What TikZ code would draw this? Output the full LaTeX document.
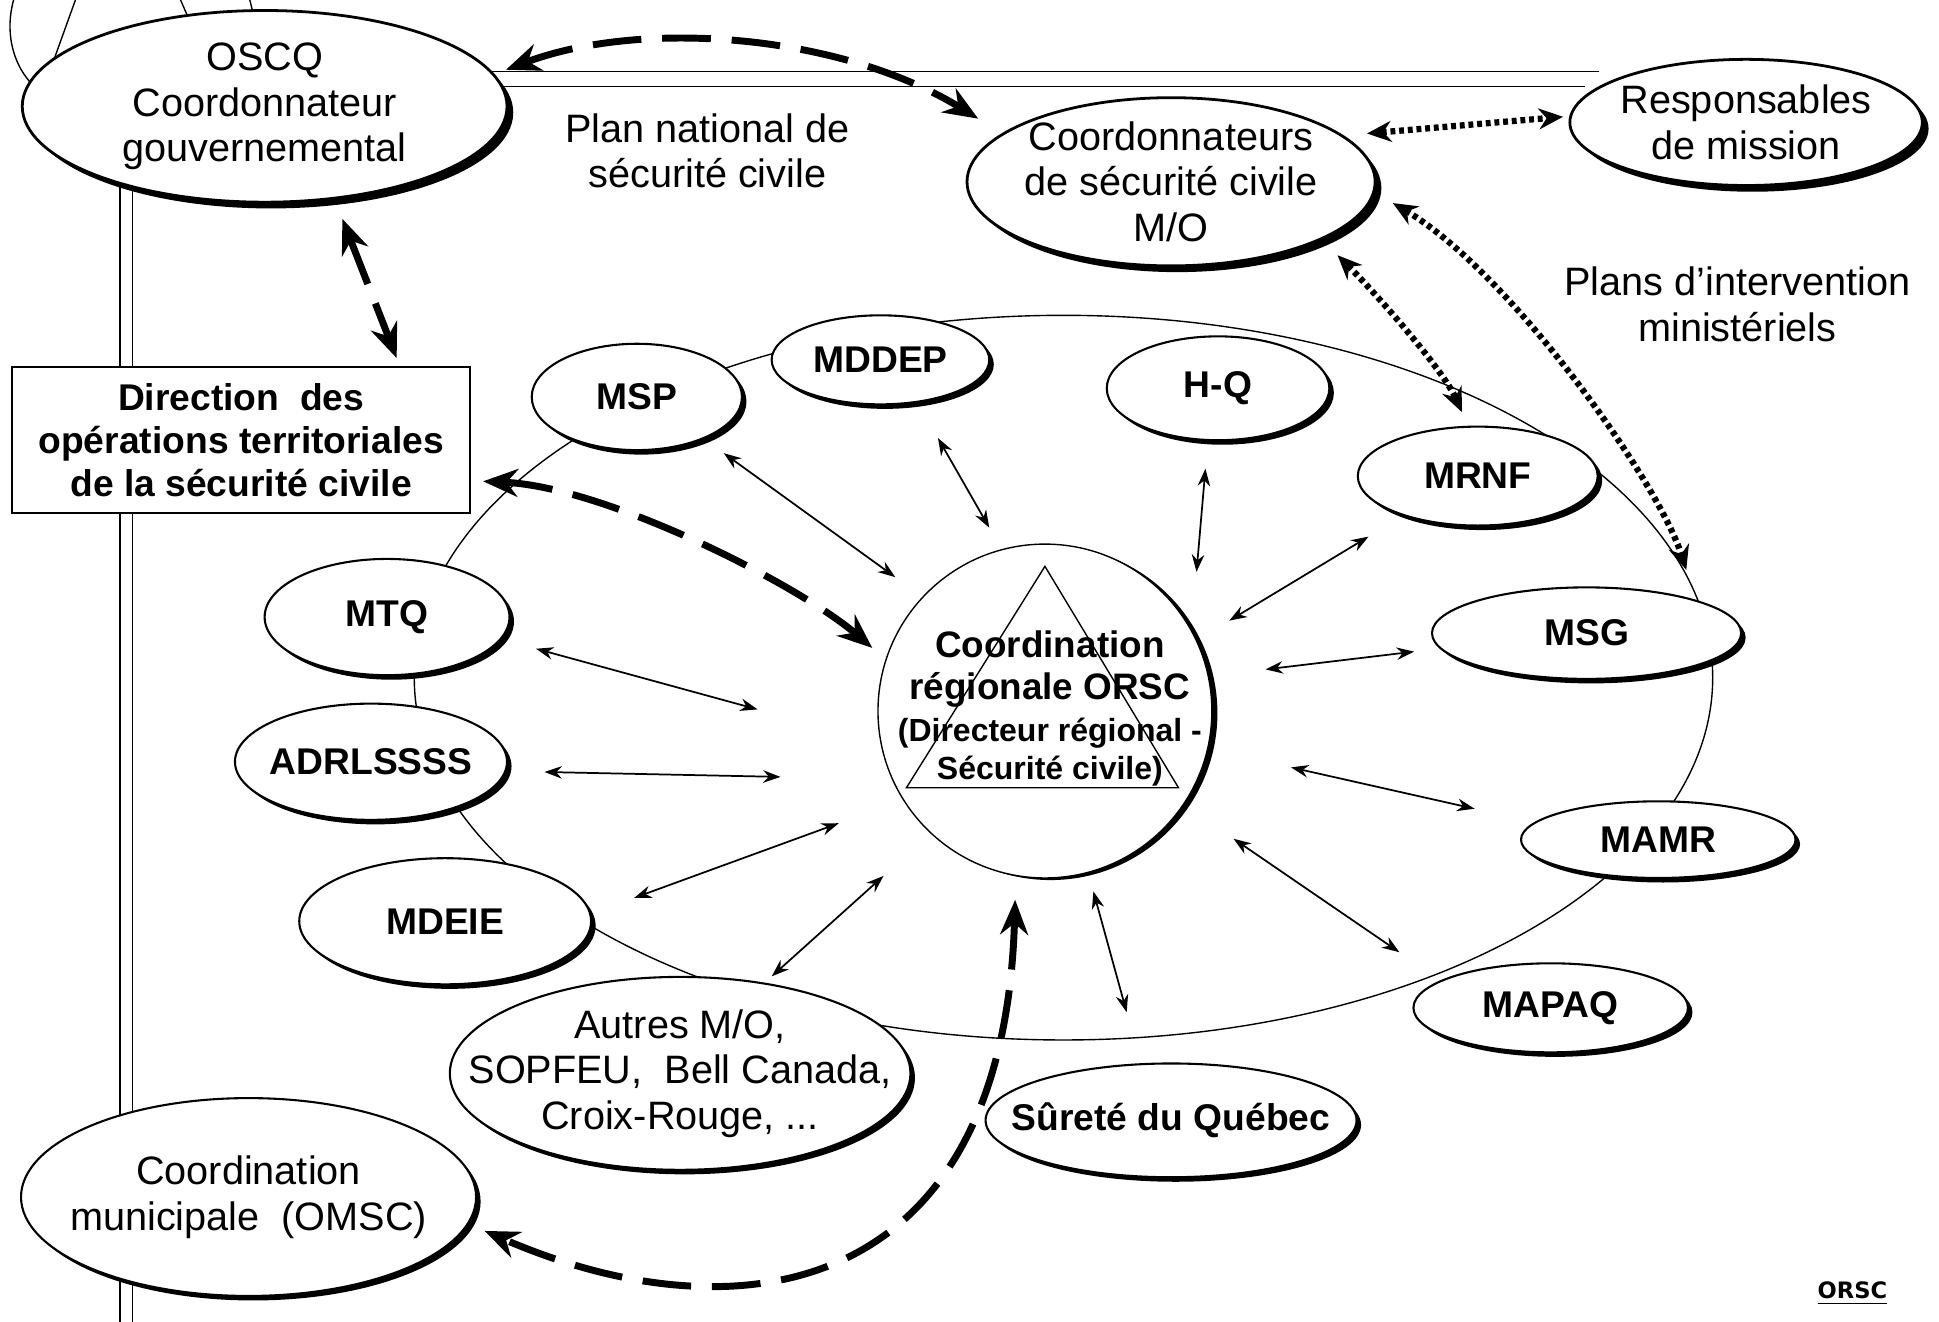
\documentclass[tikz,border=0pt]{standalone}
\usepackage{fontspec}
\setmainfont{Liberation Sans}
\newfontfamily\footfont{DejaVu Sans}
\usetikzlibrary{shapes.geometric, shadows, arrows.meta}

\tikzset{
  org/.style 2 args={ellipse, draw, fill=white, semithick, inner sep=-14pt,
    minimum width=#1*0.0125cm, minimum height=#2*0.0125cm, align=center,
    drop shadow={shadow xshift=1.3pt, shadow yshift=-1.3pt, fill=black, opacity=1}},
  bigorg/.style 2 args={ellipse, draw, fill=white, thick, inner sep=-14pt,
    minimum width=#1*0.0125cm, minimum height=#2*0.0125cm, align=center,
    drop shadow={shadow xshift=1.8pt, shadow yshift=-1.8pt, fill=black, opacity=1}},
  txt/.style={font=\fontsize{11.4}{13.1}\selectfont, align=center},
  btxt/.style={font=\fontsize{10.7}{12.5}\selectfont\bfseries, align=center},
  link/.style={<->, >={Stealth[length=5pt, width=3.6pt]}, line width=0.5pt},
  plan/.style={<->, >={Stealth[length=10pt, width=8pt]}, line width=2pt,
    dash pattern=on 14pt off 6pt},
  mission/.style={<->, >={Stealth[length=7pt, width=6pt]}, line width=1.8pt,
    dash pattern=on 1.4pt off 1.1pt}
}

\begin{document}
\begin{tikzpicture}[x=0.0125cm, y=-0.0125cm]
  \useasboundingbox (0,0) rectangle (1568,1069);

  % bits of the page frame
  \draw (11,0) .. controls (4,25) and (10,50) .. (24,66);
  \draw (43,50) -- (61,0);
  \draw (146,0) -- (153,16);
  \draw (202,0) -- (205,12);
  \draw (330,58) -- (1293,58);
  \draw (330,70) -- (1282,70);
  \draw (97,120) -- (97,1069);
  \draw (107,120) -- (107,1069);

  % regional ring
  \draw[thin] (860,548) ellipse [x radius=525, y radius=293];

  % top level
  \node[bigorg={392}{155}, txt] (oscq) at (214,86) {OSCQ\\Coordonnateur\\gouvernemental};
  \node[bigorg={330}{136}, txt] (coordo) at (947,147) {Coordonnateurs\\de sécurité civile\\M/O};
  \node[bigorg={285}{102}, txt] (resp) at (1412,99) {Responsables\\de mission};
  \node[draw, fill=white, semithick, minimum width=370*0.0125cm, minimum height=118*0.0125cm, btxt]
    (dir) at (195,356) {Direction~ des\\opérations territoriales\\de la sécurité civile};
  \node[txt] (plannat) at (572,122) {Plan national de\\sécurité civile};
  \node[txt] (plansint) at (1405,246) {Plans d’intervention\\ministériels};

  % ORSC
  \node[circle, draw, fill=white, thin, minimum size=270*0.0125cm,
    drop shadow={shadow xshift=1.6pt, shadow yshift=-0.6pt, fill=black, opacity=1}] (orsc) at (845,575) {};
  \draw[thin] (845,458) -- (953,637) -- (733,637) -- cycle;
  \node[font=\fontsize{10.6}{12.2}\selectfont\bfseries, align=center] (orsctitle) at (849,541) {Coordination\\régionale ORSC};
  \node[font=\fontsize{9.2}{10.8}\selectfont\bfseries, align=center] (orscsub) at (849,608) {(Directeur régional -\\Sécurité civile)};

  % ministries and partners
  \node[org={170}{86}, btxt] (msp) at (515,321) {MSP};
  \node[org={176}{72}, btxt] (mddep) at (712,291) {MDDEP};
  \node[org={180}{84}, btxt] (hq) at (985,314) {H-Q};
  \node[org={194}{80}, btxt] (mrnf) at (1195,385) {MRNF};
  \node[org={250}{74}, btxt] (msg) at (1283,512) {MSG};
  \node[org={222}{62}, btxt] (mamr) at (1341,679) {MAMR};
  \node[org={222}{72}, btxt] (mapaq) at (1254,815) {MAPAQ};
  \node[org={300}{92}, btxt] (surete) at (947,906) {Sûreté du Québec};
  \node[org={360}{156}, txt] (autres) at (550,868) {Autres M/O,\\SOPFEU,~ Bell Canada,\\Croix-Rouge, ...};
  \node[org={236}{102}, btxt] (mdeie) at (360,745) {MDEIE};
  \node[org={220}{94}, btxt] (adrl) at (300,616) {ADRLSSSS};
  \node[org={198}{94}, btxt] (mtq) at (313,499) {MTQ};
  \node[org={368}{160}, txt] (omsc) at (201,968) {Coordination\\municipale~ (OMSC)};

  % links to the regional coordination
  \draw[link, shorten <=7pt, shorten >=9.6pt] (msp.-32) -- (orsc.137);
  \draw[link, shorten <=11.7pt, shorten >=7.1pt] (mddep.-49) -- (orsc.105);
  \draw[link, shorten <=8pt, shorten >=16.7pt] (hq.-101) -- (orsc.29);
  \draw[link, shorten <=11.6pt, shorten >=10.9pt] (mrnf.-152) -- (orsc.25);
  \draw[link, shorten <=7.4pt, shorten >=16.4pt] (msg.-174) -- (orsc.12);
  \draw[link, shorten <=17.6pt, shorten >=24.4pt] (mamr.172) -- (orsc.-13);
  \draw[link, shorten <=14.3pt, shorten >=17.3pt] (mapaq.166) -- (orsc.-34);
  \draw[link, shorten <=15.2pt, shorten >=5.5pt] (surete.118) -- (orsc.-75);
  \draw[link, shorten <=2.7pt, shorten >=18.2pt] (autres.47) -- (orsc.-133);
  \draw[link, shorten <=13.2pt, shorten >=19.6pt] (mdeie.3) -- (orsc.-148);
  \draw[link, shorten <=11pt, shorten >=32pt] (adrl.-4) -- (orsc.-156);
  \draw[link, shorten <=10.3pt, shorten >=36.6pt] (mtq.-11) -- (orsc.-169);

  % plans
  \draw[plan, shorten <=3.5pt, shorten >=8pt] (oscq.8) .. controls +(120,-45) and +(-130,-80) .. (coordo.164);
  \draw[plan, shorten <=6pt, shorten >=2.5pt] (oscq.-53) -- (dir.25);
  \draw[plan, shorten <=3.5pt, shorten >=5pt] (dir.-10) .. controls +(110,5) and +(-70,-60) .. (orsc.162);
  \draw[plan, shorten <=6.8pt, shorten >=5pt] (orsc.-100) .. controls +(-10,340) and +(220,95) .. (omsc.-7);

  \draw[mission, shorten <=6.7pt, shorten >=1.8pt] (coordo.15) -- (resp.178);
  \draw[mission, shorten <=6.3pt, shorten >=4.3pt] (coordo.-21) .. controls +(45,45) and +(-20,-45) .. (mrnf.101);
  \draw[mission, shorten <=6pt, shorten >=9pt] (coordo.-3) .. controls +(110,65) and +(-30,-95) .. (msg.17);

  \node[font=\footfont\bfseries\fontsize{6.5}{8}\selectfont] (tag) at (1498,1046) {\underline{ORSC}};
\end{tikzpicture}
\end{document}
